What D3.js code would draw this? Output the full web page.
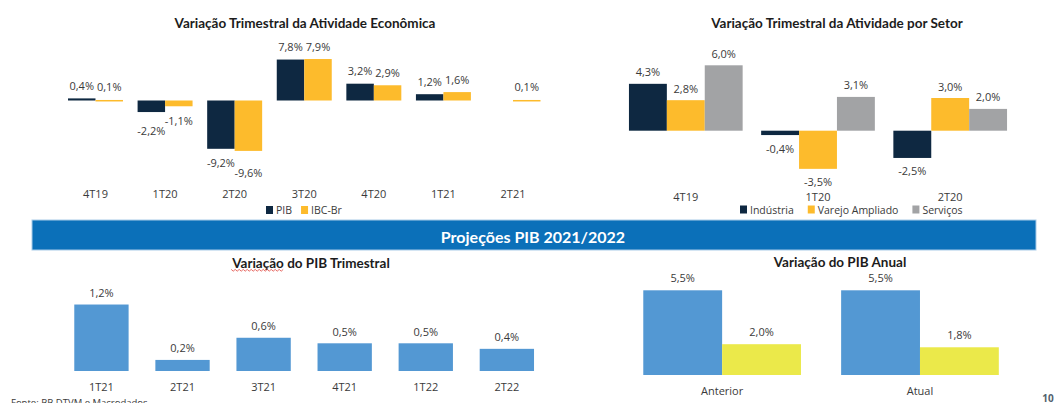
<!DOCTYPE html>
<html>
<head>
<meta charset="utf-8">
<script src="https://cdn.jsdelivr.net/npm/d3@7"></script>
<style>
  body { margin: 0; background: #fff; }
  svg { display: block; font-family: "Open Sans", Lato, sans-serif; }
</style>
</head>
<body>
<div id="chart"></div>
<script>
const trimTop = ["4T19", "1T20", "2T20", "3T20", "4T20", "1T21", "2T21"]
const pibTrim = [0.4, -2.2, -9.2, 7.8, 3.2, 1.2, null]
const ibcBr = [0.1, -1.1, -9.6, 7.9, 2.9, 1.6, 0.1]

const trimSetor = ["4T19", "1T20", "2T20"]
const industria = [4.3, -0.4, -2.5]
const varejo = [2.8, -3.5, 3.0]
const servicos = [6.0, 3.1, 2.0]

const trimProj = ["1T21", "2T21", "3T21", "4T21", "1T22", "2T22"]
const pibProj = [1.2, 0.2, 0.6, 0.5, 0.5, 0.4]

const anos = ["Anterior", "Atual"]
const pib2021 = [5.5, 5.5]
const pib2022 = [2.0, 1.8]

const width = 1057
const height = 403

const navy = "#0e2841"
const gold = "#fdbb2c"
const gray = "#a2a3a5"
const blue = "#5398d3"
const lime = "#ebe94a"
const txt = "#3a3a3a"
const titleFont = "Lato, 'Open Sans', sans-serif"

const svg = d3.select("#chart")
    .append("svg")
    .attr("width", width)
    .attr("height", height)

const fmt = v => v.toFixed(1).replace(".", ",") + "%"

// grouped bars helper
function grouped(cfg) {
    const g = svg.append("g")
    const x0 = d3.scaleBand()
        .domain(cfg.cats)
        .range(cfg.xr)
        .paddingInner(cfg.pad)
        .paddingOuter(cfg.pad / 2)
    const x1 = d3.scaleBand()
        .domain(cfg.series.map(s => s.name))
        .range([0, x0.bandwidth()])
    const y = d3.scaleLinear().domain(cfg.yd).range(cfg.yr)

    const labels = []
    cfg.series.forEach(function (s) {
        const pts = cfg.cats.map((c, i) => ({ c: c, v: s.values[i] }))
            .filter(d => d.v !== null)
        const sg = g.append("g")
        sg.selectAll("rect")
            .data(pts)
            .enter()
            .append("rect")
            .attr("x", d => x0(d.c) + x1(s.name))
            .attr("width", x1.bandwidth())
            .attr("y", d => y(Math.max(0, d.v)))
            .attr("height", d => Math.max(1.5, Math.abs(y(d.v) - y(0))))
            .attr("fill", s.color)
        sg.selectAll("text")
            .data(pts)
            .enter()
            .append("text")
            .attr("x", d => x0(d.c) + x1(s.name) + x1.bandwidth() / 2)
            .attr("y", d => d.v >= 0 ? y(d.v) - cfg.lg : y(d.v) + cfg.lg + 1)
            .attr("text-anchor", "middle")
            .attr("dominant-baseline", "central")
            .attr("font-size", 11)
            .attr("fill", txt)
            .text(d => fmt(d.v))
            .each(function (d) { labels.push({ node: this, c: d.c, v: d.v }) })
    })

    // rótulos vizinhos que se sobrepõem: desloca o mais afastado da barra
    cfg.cats.forEach(function (c) {
        const ls = labels.filter(l => l.c === c)
        for (let i = 1; i < ls.length; i++) {
            const a = ls[i - 1], b = ls[i]
            if ((a.v < 0) !== (b.v < 0)) continue
            const ax = +a.node.getAttribute("x"), bx = +b.node.getAttribute("x")
            const ay = +a.node.getAttribute("y"), by = +b.node.getAttribute("y")
            const wa = a.node.getComputedTextLength(), wb = b.node.getComputedTextLength()
            if (Math.abs(bx - ax) < (wa + wb) / 2 + 1 && Math.abs(by - ay) < 10) {
                if (a.v < 0) {
                    if (ay > by) a.node.setAttribute("y", by + 10)
                    else b.node.setAttribute("y", ay + 10)
                } else {
                    if (ay < by) a.node.setAttribute("y", by - 10)
                    else b.node.setAttribute("y", ay - 10)
                }
            }
        }
    })

    // category labels
    g.append("g")
        .selectAll("text")
        .data(cfg.cats)
        .enter()
        .append("text")
        .attr("x", d => x0(d) + x0.bandwidth() / 2)
        .attr("y", cfg.labY)
        .attr("text-anchor", "middle")
        .attr("dominant-baseline", "central")
        .attr("font-size", 11)
        .attr("fill", txt)
        .text(d => d)

    // title
    const t = svg.append("text")
        .attr("x", cfg.titleX)
        .attr("y", cfg.titleY)
        .attr("text-anchor", "middle")
        .attr("dominant-baseline", "central")
        .attr("font-family", titleFont)
        .attr("font-size", 13.5)
        .attr("font-weight", "bold")
        .attr("fill", "#1c1c1c")
        .text(cfg.title)

    // legend
    if (cfg.legX) {
        let lx = cfg.legX
        cfg.series.forEach(function (s) {
            g.append("rect")
                .attr("x", lx).attr("y", cfg.legY - 4)
                .attr("width", 7).attr("height", 8)
                .attr("fill", s.color)
            const lt = g.append("text")
                .attr("x", lx + 10)
                .attr("y", cfg.legY)
                .attr("dominant-baseline", "central")
                .attr("font-size", 10.5)
                .attr("fill", txt)
                .text(s.name)
            lx += 10 + lt.node().getComputedTextLength() + cfg.legGap
        })
    }
    return t
}

grouped({
    title: "Variação Trimestral da Atividade Econômica",
    titleX: 305, titleY: 22.5,
    cats: trimTop,
    series: [
        { name: "PIB", values: pibTrim, color: navy },
        { name: "IBC-Br", values: ibcBr, color: gold }
    ],
    xr: [60.7, 547.8], pad: 0.21,
    yd: [-10, 10], yr: [153, 48],
    lg: 13, labY: 193.5,
    legX: 266, legY: 210, legGap: 9
})

grouped({
    title: "Variação Trimestral da Atividade por Setor",
    titleX: 837, titleY: 22.5,
    cats: trimSetor,
    series: [
        { name: "Indústria", values: industria, color: navy },
        { name: "Varejo Ampliado", values: varejo, color: gold },
        { name: "Serviços", values: servicos, color: gray }
    ],
    xr: [619.7, 1016.3], pad: 0.14,
    yd: [-5, 7], yr: [185.2, 54.4],
    lg: 12, labY: 196.5,
    legX: 740, legY: 209.5, legGap: 14
})

// faixa azul
svg.append("rect")
    .attr("x", 32).attr("y", 220)
    .attr("width", 1004).attr("height", 30)
    .attr("fill", "#0b70b9")
    .attr("stroke", "#a9cbe8")
    .attr("stroke-width", 1)
svg.append("text")
    .attr("x", 533).attr("y", 236.5)
    .attr("text-anchor", "middle")
    .attr("dominant-baseline", "central")
    .attr("font-family", titleFont)
    .attr("font-size", 16)
    .attr("font-weight", "bold")
    .attr("fill", "#fff")
    .text("Projeções PIB 2021/2022")

const tTrim = grouped({
    title: "Variação do PIB Trimestral",
    titleX: 311, titleY: 262.5,
    cats: trimProj,
    series: [{ name: "PIB", values: pibProj, color: blue }],
    xr: [60.9, 547.4], pad: 0.33,
    yd: [0, 1.5], yr: [371, 287.9],
    lg: 12, labY: 386.5
})

grouped({
    title: "Variação do PIB Anual",
    titleX: 840, titleY: 261.5,
    cats: anos,
    series: [
        { name: "2021", values: pib2021, color: blue },
        { name: "2022", values: pib2022, color: lime }
    ],
    xr: [623.2, 1018.9], pad: 0.203,
    yd: [0, 6], yr: [375, 282.6],
    lg: 12.5, labY: 390
})

// sublinhado ondulado do corretor sob "Variação"
const tn = tTrim.node()
const bb = tn.getBBox()
const wLen = tn.getSubStringLength(0, 8)
const wave = []
for (let i = 0; i <= Math.round(wLen / 2); i++) {
    wave.push([bb.x + i * 2, 270 + (i % 2 ? 1.2 : -0.6)])
}
svg.append("path")
    .attr("d", d3.line()(wave))
    .attr("fill", "none")
    .attr("stroke", "#e0453d")
    .attr("stroke-width", 0.8)

svg.append("text")
    .attr("x", 11).attr("y", 406)
    .attr("font-size", 9.5)
    .attr("fill", txt)
    .text("Fonte: BB DTVM e Macrodados")

svg.append("text")
    .attr("x", 1048).attr("y", 397.5)
    .attr("text-anchor", "middle")
    .attr("dominant-baseline", "central")
    .attr("font-size", 10)
    .attr("font-weight", "bold")
    .attr("fill", "#52606d")
    .text("10")
</script>
</body>
</html>
